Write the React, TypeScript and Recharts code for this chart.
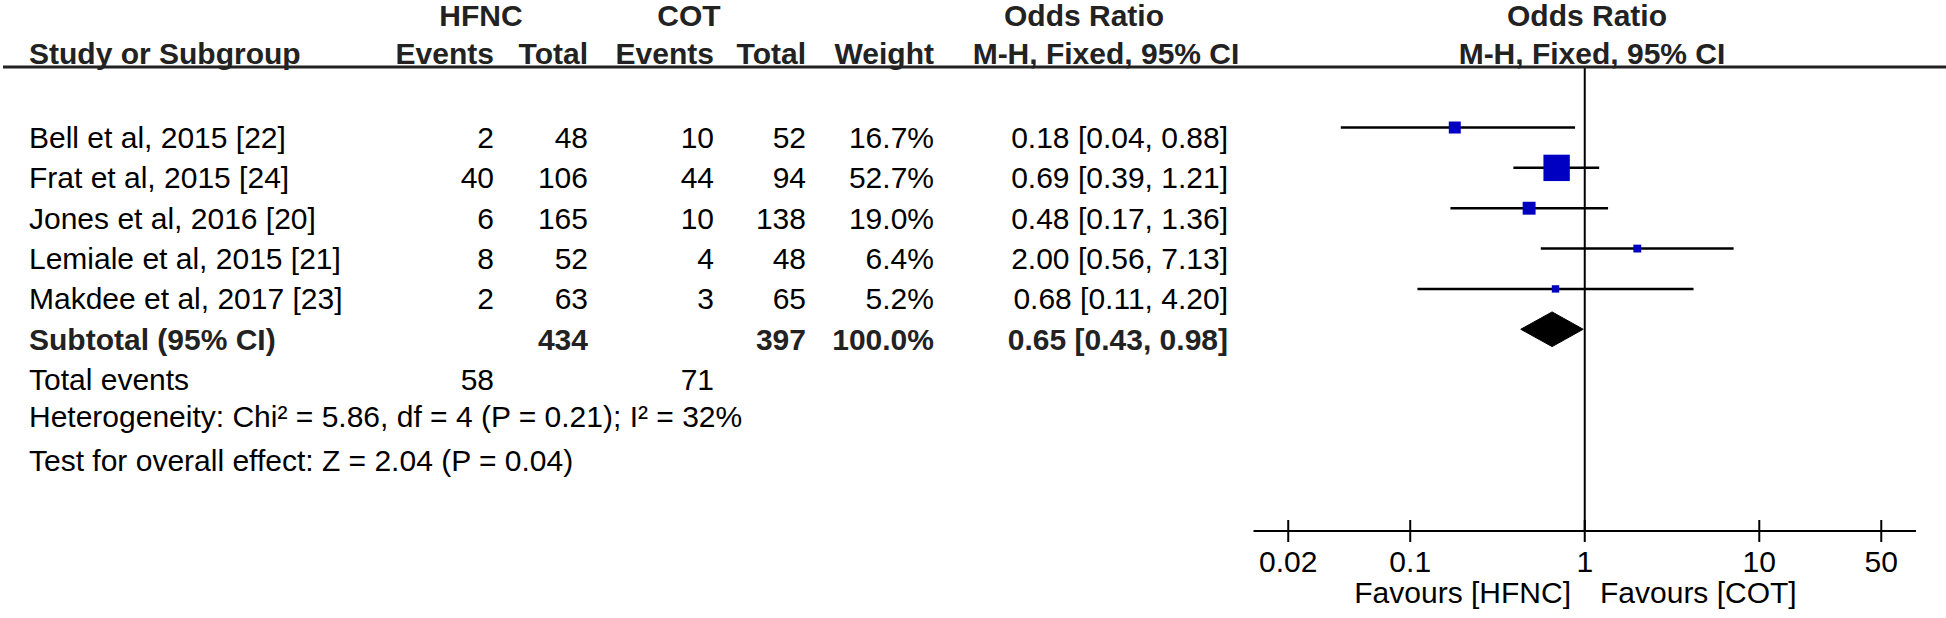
import React from "react";
import { ScatterChart, Scatter, XAxis, YAxis, ReferenceLine } from "recharts";

const studies = [
  "Bell et al, 2015 [22]",
  "Frat et al, 2015 [24]",
  "Jones et al, 2016 [20]",
  "Lemiale et al, 2015 [21]",
  "Makdee et al, 2017 [23]",
];
const hfncEvents = [2, 40, 6, 8, 2];
const hfncTotal = [48, 106, 165, 52, 63];
const cotEvents = [10, 44, 10, 4, 3];
const cotTotal = [52, 94, 138, 48, 65];
const weights = [16.7, 52.7, 19.0, 6.4, 5.2];
const oddsRatio = [0.18, 0.69, 0.48, 2.0, 0.68];
const ciLow = [0.04, 0.39, 0.17, 0.56, 0.11];
const ciHigh = [0.88, 1.21, 1.36, 7.13, 4.2];

const pooledOR = 0.65;
const pooledLow = 0.43;
const pooledHigh = 0.98;
const subtotalTotals = [434, 397];
const totalEvents = [58, 71];
const heterogeneity = "Heterogeneity: Chi² = 5.86, df = 4 (P = 0.21); I² = 32%";
const overallEffect = "Test for overall effect: Z = 2.04 (P = 0.04)";
const axisTicks = [0.02, 0.1, 1, 10, 50];

const W = 1946;
const H = 618;
const PLOT_LEFT = 1253.5;
const PLOT_RIGHT = 1916;
const PLOT_TOP = 67;
const AXIS_Y = 531;
const Y_MIN = -1.5;
const Y_MAX = 10;
const X_MIN = 10 ** -1.898;
const X_MAX = 10 ** 1.898;

const FONT = "'Liberation Sans', Arial, sans-serif";
const BLUE = "#0000C2";

// text columns (right edges unless noted)
const COL = { name: 29, hfncEv: 494, hfncTot: 588, cotEv: 714, cotTot: 806, weight: 934, ci: 1228 };

const rowY = (i: number) => PLOT_TOP + ((i - Y_MIN) * (AXIS_Y - PLOT_TOP)) / (Y_MAX - Y_MIN);
const baseline = (i: number) => rowY(i) + 20.5;
const fmt = (v: number) => v.toFixed(2);
const ciText = (o: number, l: number, h: number) => `${fmt(o)} [${fmt(l)}, ${fmt(h)}]`;
const squareSide = (w: number) => 5.3 + 0.4 * w;

const squares = studies.map((name, i) => ({ name, x: oddsRatio[i], y: i, w: weights[i] }));
const SUB_ROW = studies.length;
const DIAMOND_H = 0.43;
const diamond = [
  { x: pooledLow, y: SUB_ROW },
  { x: pooledOR, y: SUB_ROW - DIAMOND_H },
  { x: pooledHigh, y: SUB_ROW },
  { x: pooledOR, y: SUB_ROW + DIAMOND_H },
  { x: pooledLow, y: SUB_ROW },
];

function T({ x, y, children, anchor = "end", bold = false }: any) {
  return (
    <text
      x={x}
      y={y}
      textAnchor={anchor}
      fontFamily={FONT}
      fontSize={30}
      fontWeight={bold ? "bold" : "normal"}
      fill={bold ? "#222" : "#000"}
    >
      {children}
    </text>
  );
}

function AxisTick(props: any) {
  const { x, y, payload } = props;
  return (
    <g>
      <line x1={x} x2={x} y1={y - 11} y2={y + 11} stroke="#000" strokeWidth={2} />
      <text x={x} y={y + 41} textAnchor="middle" fontFamily={FONT} fontSize={30} fill="#000">
        {String(payload.value)}
      </text>
    </g>
  );
}

function Square(props: any) {
  const { cx, cy, payload } = props;
  const s = squareSide(payload.w);
  return <rect x={cx - s / 2} y={cy - s / 2} width={s} height={s} fill={BLUE} />;
}

export default function App() {
  return (
    <div style={{ position: "absolute", left: 0, top: 0, width: W, height: H, background: "#fff" }}>
      <div style={{ position: "absolute", left: 0, top: 0 }}>
        <ScatterChart
          width={W}
          height={H}
          margin={{ top: PLOT_TOP, right: W - PLOT_RIGHT, bottom: 27, left: PLOT_LEFT }}
        >
          <XAxis
            type="number"
            dataKey="x"
            scale="log"
            domain={[X_MIN, X_MAX]}
            allowDataOverflow
            ticks={axisTicks}
            interval={0}
            tickLine={false}
            tickSize={0}
            tickMargin={0}
            tick={<AxisTick />}
            axisLine={{ stroke: "#000", strokeWidth: 2 }}
            height={60}
          />
          <YAxis type="number" dataKey="y" domain={[Y_MIN, Y_MAX]} reversed hide width={0} />
          <ReferenceLine x={1} stroke="#000" strokeWidth={2} />
          {studies.map((s, i) => (
            <ReferenceLine
              key={s}
              segment={[
                { x: ciLow[i], y: i },
                { x: ciHigh[i], y: i },
              ]}
              stroke="#000"
              strokeWidth={2.5}
            />
          ))}
          <Scatter data={squares} shape={<Square />} isAnimationActive={false} />
          <Scatter
            data={diamond}
            shape={() => <g />}
            line={{ stroke: "#000", fill: "#000", strokeWidth: 1 }}
            isAnimationActive={false}
          />
        </ScatterChart>
      </div>
      <svg
        width={W}
        height={H}
        style={{ position: "absolute", left: 0, top: 0, pointerEvents: "none" }}
      >
        {/* header */}
        <T x={481} y={26} anchor="middle" bold>HFNC</T>
        <T x={689} y={26} anchor="middle" bold>COT</T>
        <T x={1084} y={26} anchor="middle" bold>Odds Ratio</T>
        <T x={1587} y={26} anchor="middle" bold>Odds Ratio</T>
        <T x={COL.name} y={64} anchor="start" bold>Study or Subgroup</T>
        <T x={COL.hfncEv} y={64} bold>Events</T>
        <T x={COL.hfncTot} y={64} bold>Total</T>
        <T x={COL.cotEv} y={64} bold>Events</T>
        <T x={COL.cotTot} y={64} bold>Total</T>
        <T x={COL.weight} y={64} bold>Weight</T>
        <T x={1106} y={64} anchor="middle" bold>M-H, Fixed, 95% CI</T>
        <T x={1592} y={64} anchor="middle" bold>M-H, Fixed, 95% CI</T>
        <line x1={3} x2={W} y1={PLOT_TOP} y2={PLOT_TOP} stroke="#222" strokeWidth={3} />

        {/* study rows */}
        {studies.map((s, i) => (
          <g key={s}>
            <T x={COL.name} y={baseline(i)} anchor="start">{s}</T>
            <T x={COL.hfncEv} y={baseline(i)}>{hfncEvents[i]}</T>
            <T x={COL.hfncTot} y={baseline(i)}>{hfncTotal[i]}</T>
            <T x={COL.cotEv} y={baseline(i)}>{cotEvents[i]}</T>
            <T x={COL.cotTot} y={baseline(i)}>{cotTotal[i]}</T>
            <T x={COL.weight} y={baseline(i)}>{weights[i].toFixed(1)}%</T>
            <T x={COL.ci} y={baseline(i)}>{ciText(oddsRatio[i], ciLow[i], ciHigh[i])}</T>
          </g>
        ))}

        {/* subtotal */}
        <T x={COL.name} y={baseline(SUB_ROW)} anchor="start" bold>Subtotal (95% CI)</T>
        <T x={COL.hfncTot} y={baseline(SUB_ROW)} bold>{subtotalTotals[0]}</T>
        <T x={COL.cotTot} y={baseline(SUB_ROW)} bold>{subtotalTotals[1]}</T>
        <T x={COL.weight} y={baseline(SUB_ROW)} bold>{weights.reduce((a, b) => a + b, 0).toFixed(1)}%</T>
        <T x={COL.ci} y={baseline(SUB_ROW)} bold>{ciText(pooledOR, pooledLow, pooledHigh)}</T>

        <T x={COL.name} y={baseline(SUB_ROW + 1)} anchor="start">Total events</T>
        <T x={COL.hfncEv} y={baseline(SUB_ROW + 1)}>{totalEvents[0]}</T>
        <T x={COL.cotEv} y={baseline(SUB_ROW + 1)}>{totalEvents[1]}</T>
        <T x={COL.name} y={baseline(SUB_ROW + 2) - 3} anchor="start">{heterogeneity}</T>
        <T x={COL.name} y={baseline(SUB_ROW + 3)} anchor="start">{overallEffect}</T>

        {/* favours labels */}
        <T x={1571} y={603}>Favours [HFNC]</T>
        <T x={1600} y={603} anchor="start">Favours [COT]</T>
      </svg>
    </div>
  );
}
